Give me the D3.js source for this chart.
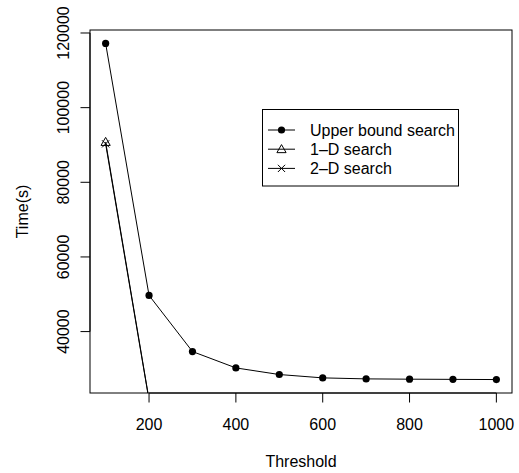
<!DOCTYPE html>
<html>
<head>
<meta charset="utf-8">
<script src="https://cdn.jsdelivr.net/npm/d3@7"></script>
<style>
  body { margin: 0; background: #fff; }
  svg text { font-family: "Liberation Sans", Arial, sans-serif; font-size: 16px; fill: #000; }
</style>
</head>
<body>
<svg width="519" height="473"></svg>
<script>
// data
const thresholds = [100, 200, 300, 400, 500, 600, 700, 800, 900, 1000];
const upperBound = [117200, 49700, 34650, 30270, 28500, 27600, 27330, 27250, 27200, 27150];
const oneD = [90800, 21800, 21000, 20600, 20400, 20300, 20200, 20200, 20100, 20100];
const twoD = [90300, 21600, 20800, 20400, 20200, 20100, 20000, 20000, 19900, 19900];
const xTicks = [200, 400, 600, 800, 1000];
const yTicks = [40000, 60000, 80000, 100000, 120000];
const legendLabels = ["Upper bound search", "1\u2013D search", "2\u2013D search"];

const svg = d3.select("svg");
const plot = {left: 90, right: 512, top: 30, bottom: 393};

// R style 4% padding around the data range
function pad(ext) {
    const d = (ext[1] - ext[0]) * 0.04;
    return [ext[0] - d, ext[1] + d];
}

const x = d3.scaleLinear()
    .domain(pad(d3.extent(thresholds)))
    .range([plot.left, plot.right]);
const y = d3.scaleLinear()
    .domain(pad(d3.extent(upperBound)))
    .range([plot.bottom, plot.top]);

svg.append("clipPath").attr("id", "clip")
  .append("rect")
    .attr("x", plot.left).attr("y", plot.top)
    .attr("width", plot.right - plot.left)
    .attr("height", plot.bottom - plot.top);

const series = [
    {name: legendLabels[0], values: upperBound, pch: "dot"},
    {name: legendLabels[1], values: oneD, pch: "triangle"},
    {name: legendLabels[2], values: twoD, pch: "cross"}
];

function drawSymbol(g, type, cx, cy) {
    if (type == "dot") {
        g.append("circle").attr("cx", cx).attr("cy", cy).attr("r", 3.6).attr("fill", "#000");
    } else if (type == "triangle") {
        const s = 4.6;
        g.append("path")
            .attr("d", `M${cx},${cy - s}L${cx + s},${cy + s * 0.75}L${cx - s},${cy + s * 0.75}Z`)
            .attr("fill", "none").attr("stroke", "#000").attr("stroke-width", 1);
    } else {
        const s = 3.6;
        g.append("path")
            .attr("d", `M${cx - s},${cy - s}L${cx + s},${cy + s}M${cx - s},${cy + s}L${cx + s},${cy - s}`)
            .attr("fill", "none").attr("stroke", "#000").attr("stroke-width", 1);
    }
}

const line = d3.line()
    .x((d, i) => x(thresholds[i]))
    .y(d => y(d));

const marks = svg.append("g").attr("clip-path", "url(#clip)");
series.forEach(s => {
    marks.append("path")
        .datum(s.values)
        .attr("d", line)
        .attr("fill", "none")
        .attr("stroke", "#000")
        .attr("stroke-width", 1);
    s.values.forEach((v, i) => drawSymbol(marks, s.pch, x(thresholds[i]), y(v)));
});

// box
svg.append("rect")
    .attr("x", plot.left).attr("y", plot.top)
    .attr("width", plot.right - plot.left)
    .attr("height", plot.bottom - plot.top)
    .attr("fill", "none").attr("stroke", "#000");

// x axis
const xa = svg.append("g");
xa.append("line")
    .attr("x1", x(xTicks[0])).attr("x2", x(xTicks[xTicks.length - 1]))
    .attr("y1", plot.bottom).attr("y2", plot.bottom).attr("stroke", "#000");
xa.selectAll("line.tick").data(xTicks).join("line").attr("class", "tick")
    .attr("x1", d => x(d)).attr("x2", d => x(d))
    .attr("y1", plot.bottom).attr("y2", plot.bottom + 9.5).attr("stroke", "#000");
xa.selectAll("text").data(xTicks).join("text")
    .attr("x", d => x(d)).attr("y", 429.5)
    .attr("text-anchor", "middle")
    .text(d => d);

// y axis
const ya = svg.append("g");
ya.append("line")
    .attr("x1", plot.left).attr("x2", plot.left)
    .attr("y1", y(yTicks[0])).attr("y2", y(yTicks[yTicks.length - 1])).attr("stroke", "#000");
ya.selectAll("line.tick").data(yTicks).join("line").attr("class", "tick")
    .attr("x1", plot.left - 9.5).attr("x2", plot.left)
    .attr("y1", d => y(d)).attr("y2", d => y(d)).attr("stroke", "#000");
ya.selectAll("text").data(yTicks).join("text")
    .attr("transform", d => `translate(69,${y(d)}) rotate(-90)`)
    .attr("text-anchor", "middle")
    .text(d => d);

// axis titles
svg.append("text")
    .attr("x", (plot.left + plot.right) / 2).attr("y", 467)
    .attr("text-anchor", "middle").text("Threshold");
svg.append("text")
    .attr("transform", `translate(28,${(plot.top + plot.bottom) / 2}) rotate(-90)`)
    .attr("text-anchor", "middle").text("Time(s)");

// legend
const legend = svg.append("g");
legend.append("rect")
    .attr("x", 262.5).attr("y", 109.5).attr("width", 196).attr("height", 76.5)
    .attr("fill", "#fff").attr("stroke", "#000");
series.forEach((s, i) => {
    const ly = 130 + i * 19.2;
    legend.append("line")
        .attr("x1", 268).attr("x2", 295).attr("y1", ly).attr("y2", ly)
        .attr("stroke", "#000");
    drawSymbol(legend, s.pch, 281.5, ly);
    legend.append("text").attr("x", 310).attr("y", ly + 5.5).text(s.name);
});
</script>
</body>
</html>
